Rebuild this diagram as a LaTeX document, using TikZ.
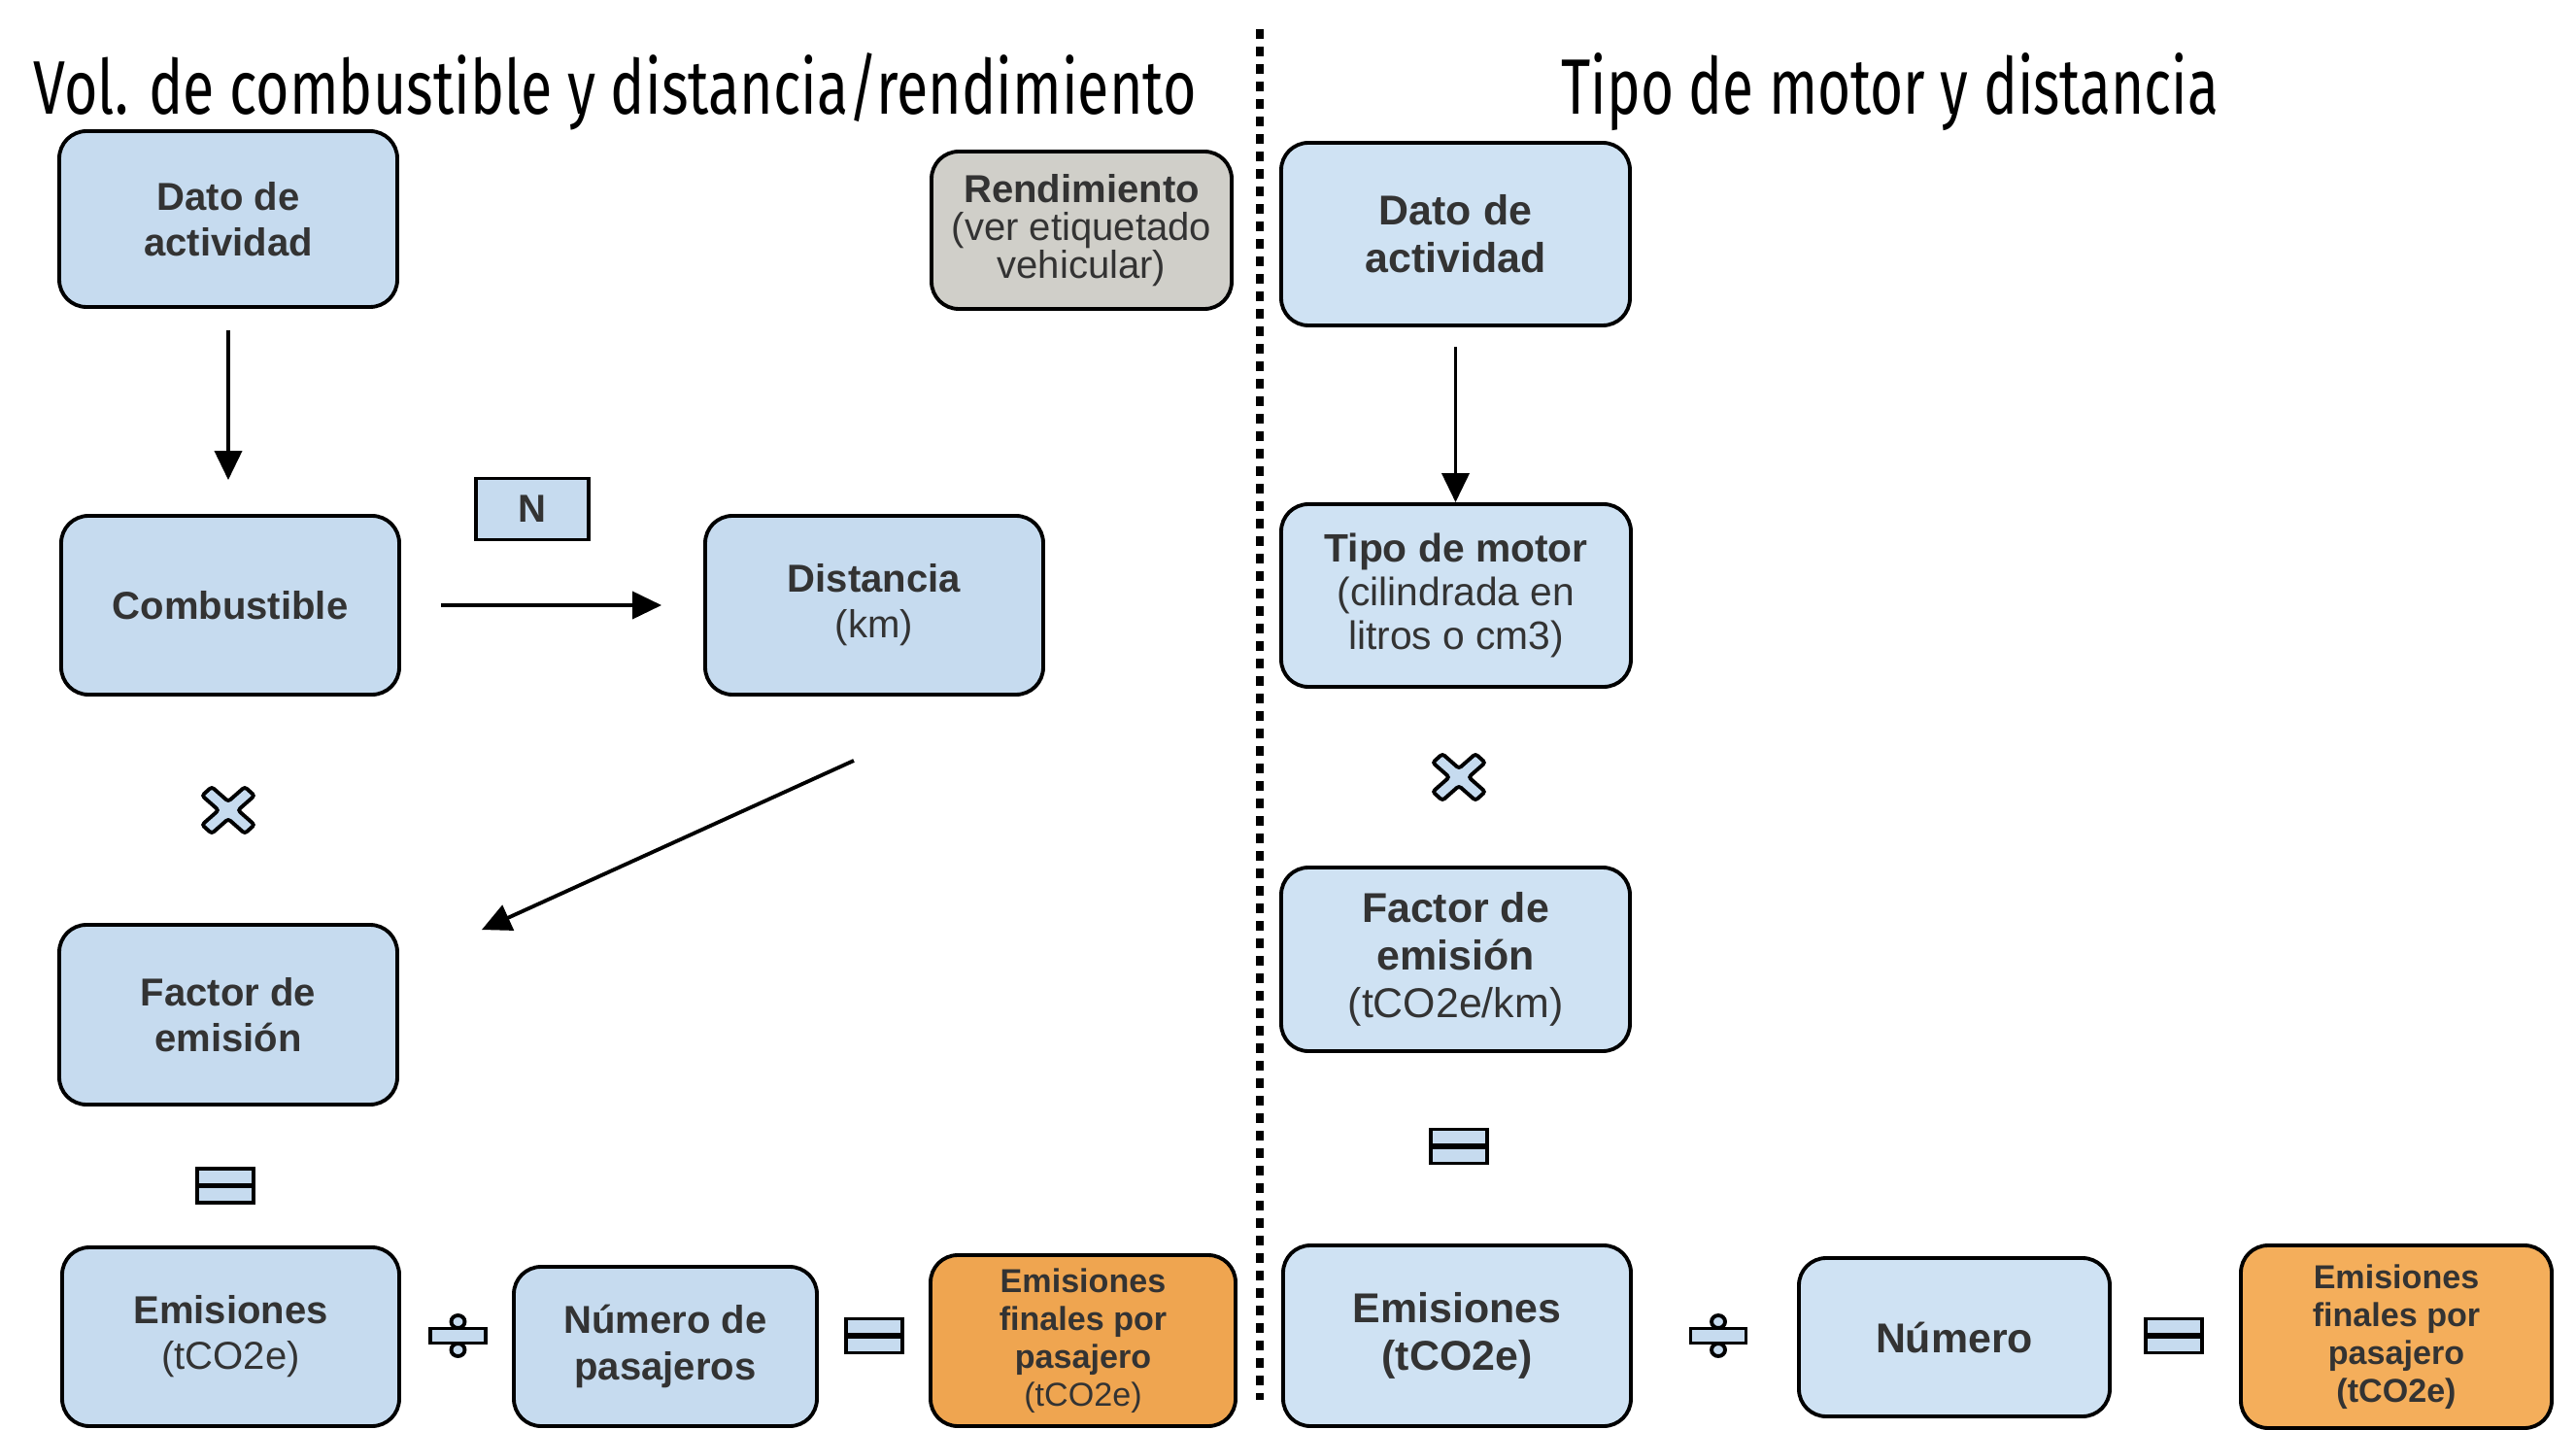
\documentclass[tikz,border=0pt]{standalone}
\usepackage{fontspec}
\usepackage{graphicx}
\setmainfont{Liberation Sans}
\newfontfamily\titlefont{Fira Sans}
\usetikzlibrary{arrows.meta,calc}
\definecolor{azul}{RGB}{198,219,239}
\definecolor{azulclaro}{RGB}{207,226,243}
\definecolor{gris}{RGB}{208,207,201}
\definecolor{naranja}{RGB}{239,165,80}
\definecolor{naranjaclaro}{RGB}{244,174,91}
\definecolor{texto}{RGB}{51,51,51}
\tikzset{
  caja/.style={draw,line width=1.1pt,rounded corners=0.28cm,fill=azul,text=texto,
    align=center,inner sep=0pt,font=\fontsize{11.4}{13.4}\selectfont},
  cajader/.style={caja,fill=azulclaro,font=\fontsize{12.2}{13.9}\selectfont},
  cajafinal/.style={caja,fill=naranja,font=\fontsize{9.7}{11.1}\selectfont},
  flecha/.style={-{Triangle[length=0.3cm,width=0.28cm]},line width=1.1pt},
  simb/.style={draw,fill=azul,line width=1.1pt},
  por/.pic={
    \draw[simb,rounded corners=0.8pt] (0,0.09) -- (0.17,0.24) -- (0.27,0.15) -- (0.10,0)
      -- (0.27,-0.15) -- (0.17,-0.24) -- (0,-0.09) -- (-0.17,-0.24) -- (-0.27,-0.15)
      -- (-0.10,0) -- (-0.27,0.15) -- (-0.17,0.24) -- cycle;
  },
  igual/.pic={
    \draw[simb] (-0.29,0.01) rectangle (0.29,0.175);
    \draw[simb] (-0.29,-0.175) rectangle (0.29,-0.01);
  },
  entre/.pic={
    \draw[simb] (-0.285,-0.075) rectangle (0.285,0.075);
    \draw[simb] (0,0.145) ellipse (0.07 and 0.065);
    \draw[simb] (0,-0.145) ellipse (0.07 and 0.065);
  }
}
\begin{document}
\begin{tikzpicture}
\useasboundingbox (0,0) rectangle (26.52,14.71);
% titulos
\node[anchor=base west,inner sep=0pt] (tit1) at (0.34,13.53)
  {\resizebox{11.97cm}{0.63cm}{\titlefont Vol. de combustible y distancia/rendimiento}};
\node[anchor=base west,inner sep=0pt] (tit2) at (16.07,13.53)
  {\resizebox{6.76cm}{0.63cm}{\titlefont Tipo de motor y distancia}};
% separador
\draw[line width=0.08cm,dash pattern=on 0.1cm off 0.08cm] (12.97,14.41) -- (12.97,0.30);

% columna izquierda
\node[caja,minimum width=3.48cm,minimum height=1.81cm] (dato1) at (2.35,12.455) {\textbf{Dato de}\\\textbf{actividad}};
\node[caja,fill=gris,minimum width=3.09cm,minimum height=1.62cm,font=\fontsize{11.4}{11.1}\selectfont] (rend) at (11.135,12.34) {\textbf{Rendimiento}\\(ver etiquetado\\vehicular)};
\node[caja,rounded corners=0pt,minimum width=1.16cm,minimum height=0.63cm] (nbox) at (5.48,9.47) {\textbf{N}};
\node[caja,minimum width=3.48cm,minimum height=1.84cm] (comb) at (2.37,8.48) {\textbf{Combustible}};
\node[caja,minimum width=3.48cm,minimum height=1.84cm] (dist) at (9.0,8.48) {\textbf{Distancia}\\(km)};
\node[caja,minimum width=3.48cm,minimum height=1.85cm] (fact1) at (2.35,4.265) {\textbf{Factor de}\\\textbf{emisión}};
\node[caja,minimum width=3.47cm,minimum height=1.84cm] (emis1) at (2.375,0.95) {\textbf{Emisiones}\\(tCO2e)};
\node[caja,minimum width=3.12cm,minimum height=1.64cm] (npas) at (6.85,0.85) {\textbf{Número de}\\\textbf{pasajeros}};
\node[cajafinal,minimum width=3.14cm,minimum height=1.76cm] (final1) at (11.15,0.91) {\textbf{Emisiones}\\\textbf{finales por}\\\textbf{pasajero}\\(tCO2e)};

\pic at (2.35,6.37) {por};
\pic at (2.32,2.505) {igual};
\pic at (4.715,0.96) {entre};
\pic at (9.00,0.96) {igual};

\draw[flecha,shorten <=0.22cm,shorten >=0.35cm] (dato1.south) -- (dato1.south |- comb.north);
\draw[flecha,shorten <=0.41cm,shorten >=0.43cm] (comb) -- (dist);
\coordinate (diagA) at ($(dist.south)+(-0.21,-0.66)$);
\coordinate (diagB) at ($(fact1.north east)+(0.85,-0.07)$);
\draw[flecha] (diagA) -- (diagB);

% columna derecha
\node[cajader,minimum width=3.59cm,minimum height=1.88cm] (dato2) at (14.985,12.30) {\textbf{Dato de}\\\textbf{actividad}};
\node[cajader,minimum width=3.6cm,minimum height=1.88cm,font=\fontsize{11.6}{12.8}\selectfont] (tipo) at (14.99,8.58) {\textbf{Tipo de motor}\\(cilindrada en\\litros o cm3)};
\node[cajader,minimum width=3.59cm,minimum height=1.89cm] (fact2) at (14.985,4.835) {\textbf{Factor de}\\\textbf{emisión}\\(tCO2e/km)};
\node[cajader,minimum width=3.58cm,minimum height=1.86cm] (emis2) at (15.0,0.96) {\textbf{Emisiones}\\\textbf{(tCO2e)}};
\node[cajader,minimum width=3.2cm,minimum height=1.63cm] (num2) at (20.12,0.945) {\textbf{Número}};
\node[cajafinal,fill=naranjaclaro,minimum width=3.2cm,minimum height=1.88cm] (final2) at (24.67,0.95) {\textbf{Emisiones}\\\textbf{finales por}\\\textbf{pasajero}\\\textbf{(tCO2e)}};

\pic at (15.02,6.71) {por};
\pic at (15.02,2.91) {igual};
\pic at (17.69,0.96) {entre};
\pic at (22.38,0.96) {igual};

\draw[flecha,shorten <=0.2cm] (dato2.south) -- (dato2.south |- tipo.north);
\end{tikzpicture}
\end{document}
